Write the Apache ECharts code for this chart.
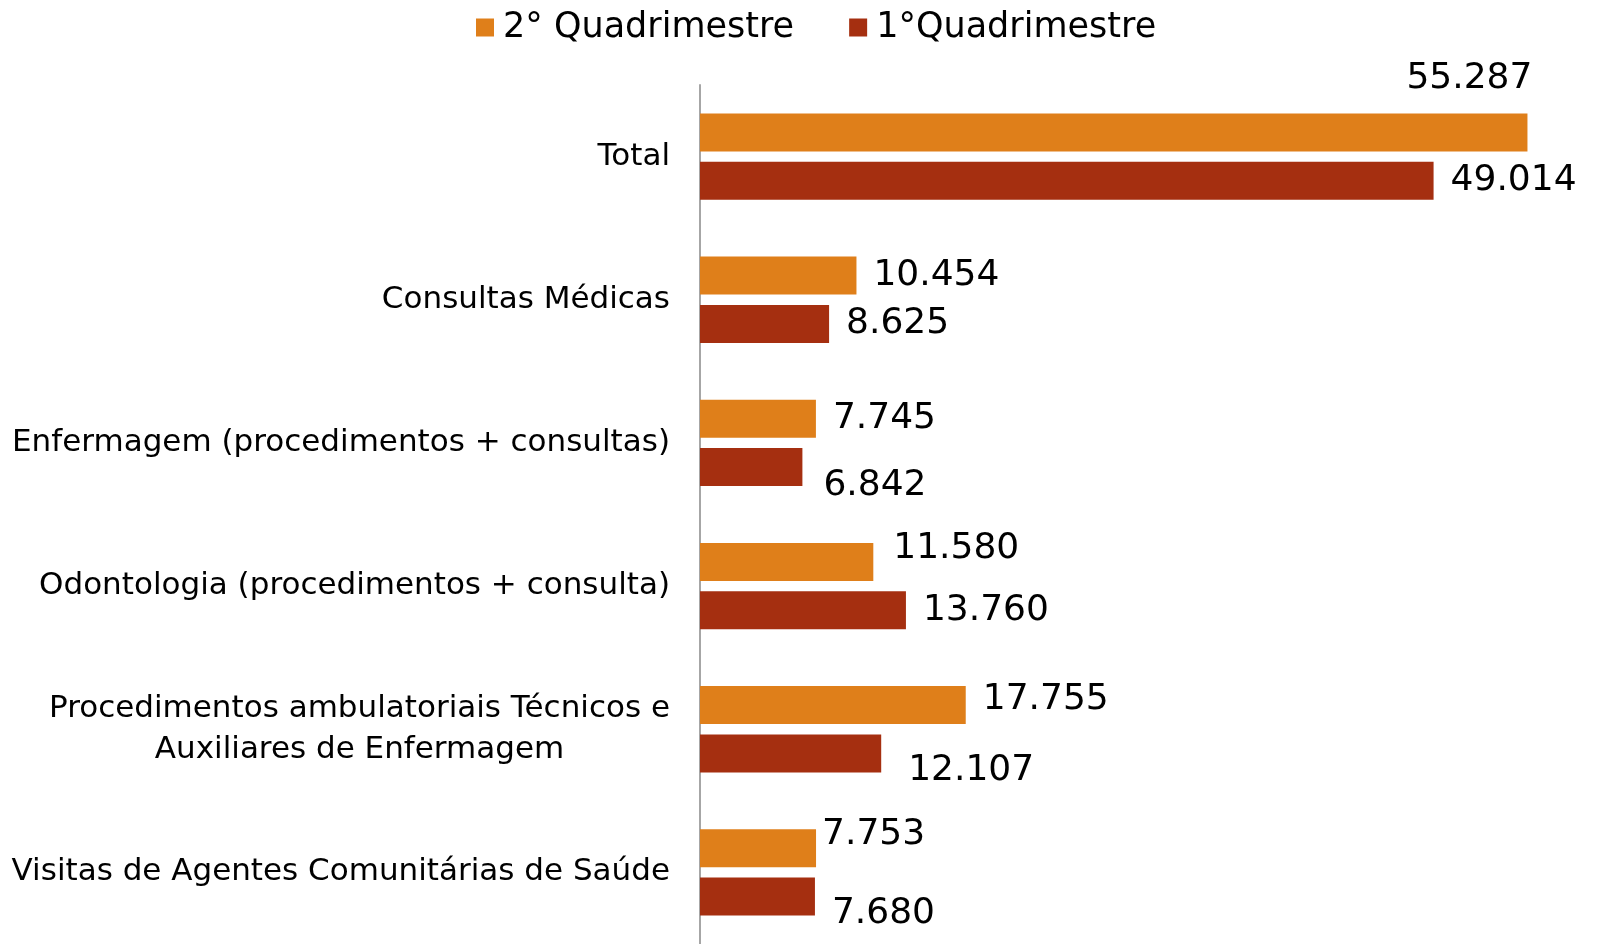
<!DOCTYPE html>
<html>
<head>
<meta charset="utf-8">
<script src="https://cdn.jsdelivr.net/npm/echarts@6/dist/echarts.min.js"></script>
<style>
html,body{margin:0;padding:0;background:#fff;}
#main{width:1598px;height:944px;}
</style>
</head>
<body>
<div id="main"></div>
<script>
// dados
var categorias = [
	'Total',
	'Consultas Médicas',
	'Enfermagem (procedimentos + consultas)',
	'Odontologia (procedimentos + consulta)',
	'Procedimentos ambulatoriais Técnicos e\nAuxiliares de Enfermagem',
	'Visitas de Agentes Comunitárias de Saúde'
];
var quad2 = [55287, 10454, 7745, 11580, 17755, 7753];
var quad1 = [49014, 8625, 6842, 13760, 12107, 7680];

// deslocamento dos rótulos (igual ao original)
var desloc2 = [[-138, -54], [0, 0], [0, 0], [3, -13], [0, -5], [-11, -14]];
var desloc1 = [[0, 0], [0, 0], [4, 19], [0, 0], [10, 17], [0, 17]];

var fonte = 'DejaVu Sans';

function fmt(v){
	return String(v).replace(/\B(?=(\d{3})+(?!\d))/g, '.');
}

function montar(valores, desloc){
	return valores.map(function(v, i){
		return {value: v, label: {offset: desloc[i]}};
	});
}

var myChart = echarts.init(document.querySelector('#main'));

var option = {
	animation: false,
	legend: {
		top: 5,
		left: 471,
		itemWidth: 18,
		itemHeight: 18,
		itemGap: 55,
		icon: 'rect',
		textStyle: {fontFamily: fonte, fontSize: 35, color: '#000', padding: [0, 0, 0, 4]},
		data: ['2° Quadrimestre', '1°Quadrimestre']
	},
	grid: {left: 700, top: 85, width: 900, height: 870},
	xAxis: {
		type: 'value',
		min: 0,
		max: 60000,
		show: false,
		splitLine: {show: false}
	},
	yAxis: {
		type: 'category',
		inverse: true,
		data: categorias,
		axisLine: {show: true, lineStyle: {color: '#a6a6a6', width: 2}},
		axisTick: {show: false},
		axisLabel: {
			margin: 30,
			fontFamily: fonte,
			fontSize: 31,
			color: '#000',
			lineHeight: 41,
			formatter: function(v){
				return v.split('\n').map(function(l){ return '{c|' + l + '}'; }).join('\n');
			},
			rich: {c: {align: 'center', fontFamily: fonte, fontSize: 31, color: '#000', lineHeight: 41}}
		}
	},
	series: [
		{
			name: '2° Quadrimestre',
			type: 'bar',
			barWidth: 38,
			barGap: '27%',
			itemStyle: {color: '#df7f1a'},
			label: {
				show: true, position: 'right', distance: 17,
				fontFamily: fonte, fontSize: 36, color: '#000',
				formatter: function(p){ return fmt(p.value); }
			},
			data: montar(quad2, desloc2)
		},
		{
			name: '1°Quadrimestre',
			type: 'bar',
			barWidth: 38,
			barGap: '27%',
			itemStyle: {color: '#a52f10'},
			label: {
				show: true, position: 'right', distance: 17,
				fontFamily: fonte, fontSize: 36, color: '#000',
				formatter: function(p){ return fmt(p.value); }
			},
			data: montar(quad1, desloc1)
		}
	]
};

myChart.setOption(option);
</script>
</body>
</html>
